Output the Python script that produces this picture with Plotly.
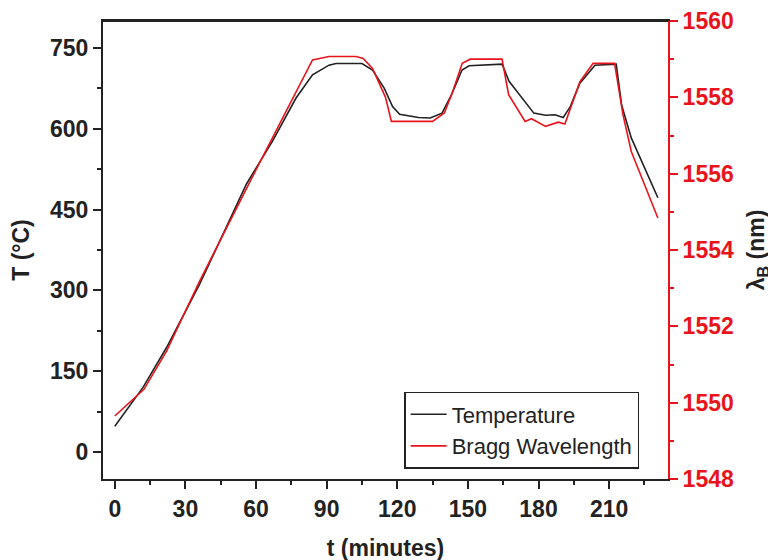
import plotly.graph_objects as go

# Temperature series (minutes, degC)
t_temp = [0, 12, 22, 36, 56, 67, 77, 84, 91, 94, 105, 109.5, 114.5, 118, 121, 129, 134, 139,
          143, 147.5, 150.5, 164.5, 167.5, 178, 183, 187, 190.5, 193.5, 197.5, 204, 213,
          215.3, 219.4, 225, 230.7]
temp = [48, 120, 194, 311, 498, 577, 657, 700, 718, 721, 721, 709, 675, 641, 627, 621, 620, 629,
        663, 709, 717, 720, 688, 629, 625, 626, 621, 641, 684, 718, 720,
        644, 583, 527, 472]

# Bragg wavelength series (minutes, nm)
t_bragg = [0, 12.4, 22, 36, 57.5, 77, 84, 91, 102.5, 105.5, 109.5, 115, 117.5, 135, 140, 143.3,
           147.6, 151, 164.5, 167.3, 174.3, 177, 183, 188.4, 191.2, 197.6, 203.2, 212.3,
           215.9, 219.4, 225, 230.7]
bragg = [1549.65, 1550.35, 1551.35, 1553.18, 1555.8, 1558.15, 1558.98, 1559.07, 1559.07, 1559.02,
         1558.76, 1558.0, 1557.37, 1557.37, 1557.59, 1558.11, 1558.89, 1559.0, 1559.0, 1558.07,
         1557.37, 1557.44, 1557.24, 1557.35, 1557.30, 1558.41, 1558.89, 1558.89,
         1557.54, 1556.58, 1555.71, 1554.84]

FONT = "Liberation Sans, Arial, sans-serif"
RED = "#e8141c"
INK = "#222222"

fig = go.Figure()
fig.add_trace(go.Scatter(x=t_temp, y=temp, mode="lines", name="Temperature",
                         line=dict(color=INK, width=1.6)))
fig.add_trace(go.Scatter(x=t_bragg, y=bragg, mode="lines", name="Bragg Wavelength",
                         line=dict(color=RED, width=1.6), yaxis="y2"))

fig.update_layout(
    width=776, height=560,
    margin=dict(l=95, r=116, t=13, b=89, autoexpand=False),
    paper_bgcolor="white", plot_bgcolor="white",
    font=dict(family=FONT, size=22, color=INK),
    showlegend=True,
    legend=dict(x=0.533, y=0.19, xanchor="left", yanchor="top",
                bordercolor=INK, borderwidth=1.5, bgcolor="white",
                font=dict(family=FONT, size=22, color=INK),
                tracegroupgap=0, itemwidth=36),
    xaxis=dict(range=[-5, 235], tickmode="array", tickvals=[0, 30, 60, 90, 120, 150, 180, 210],
               automargin=False,
               showgrid=False, zeroline=False, showline=True, linecolor=INK, linewidth=2,
               mirror=True, ticks="outside", ticklen=8, tickwidth=2, tickcolor=INK,
               tickfont=dict(family=FONT, size=23, weight="bold", color=INK),
               minor=dict(tickvals=[15, 45, 75, 105, 135, 165, 195, 225], ticks="outside",
                          ticklen=4, tickwidth=2, tickcolor=INK),
               title=dict(text="t (minutes)", font=dict(family=FONT, size=23, weight="bold",
                                                      color=INK), standoff=19)),
    yaxis=dict(range=[-50, 800], tickmode="array", tickvals=[0, 150, 300, 450, 600, 750],
               automargin=False,
               showgrid=False, zeroline=False, showline=True, linecolor=INK, linewidth=2,
               ticks="outside", ticklen=8, tickwidth=2, tickcolor=INK,
               tickfont=dict(family=FONT, size=23, weight="bold", color=INK),
               minor=dict(tickvals=[75, 225, 375, 525, 675], ticks="outside",
                          ticklen=4, tickwidth=2, tickcolor=INK),
               title=dict(text="T (°C)", font=dict(family=FONT, size=23, weight="bold",
                                                 color=INK), standoff=14)),
    yaxis2=dict(range=[1548, 1560], overlaying="y", side="right", anchor="x",
                automargin=False, ticklabeloverflow="allow",
                tickmode="array", tickvals=[1548, 1550, 1552, 1554, 1556, 1558, 1560],
                showgrid=False, zeroline=False, showline=True, linecolor=RED, linewidth=2,
                ticks="outside", ticklen=8, tickwidth=2, tickcolor=RED,
                tickfont=dict(family=FONT, size=23, weight="bold", color=RED),
                minor=dict(tickvals=[1549, 1551, 1553, 1555, 1557, 1559], ticks="outside",
                           ticklen=4, tickwidth=2, tickcolor=RED),
                title=dict(text="λ<sub>B</sub> (nm)", font=dict(family=FONT, size=23,
                           weight="bold", color=INK), standoff=15)),
    shapes=[dict(type="line", xref="paper", yref="paper", x0=0, x1=1, y0=1, y1=1,
                 line=dict(color=INK, width=2), layer="above")],
)

fig.write_html("out.html")
